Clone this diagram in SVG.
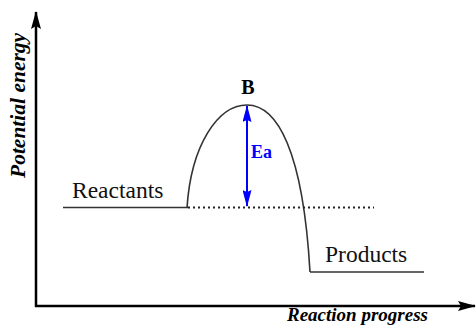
<svg xmlns="http://www.w3.org/2000/svg" width="476" height="327" viewBox="0 0 476 327">
<defs>
<style>
.axis{stroke:#000;stroke-width:2.5;fill:none}
.lvl{stroke:#333;stroke-width:1.6;fill:none}
.lbl{font-family:"Liberation Serif","Times New Roman",serif;font-size:23.5px;fill:#111}
.ax{font-family:"Liberation Serif","Times New Roman",serif;font-weight:bold;font-style:italic;fill:#000}
</style>
<marker id="ah" viewBox="0 0 18 10" refX="17" refY="5" markerWidth="18" markerHeight="10" markerUnits="userSpaceOnUse" orient="auto">
<path d="M0,0 L18,5 L0,10 L3,5 Z" fill="#000"/>
</marker>
<marker id="bh" viewBox="0 0 17 9" refX="16" refY="4.5" markerWidth="17" markerHeight="9" markerUnits="userSpaceOnUse" orient="auto-start-reverse">
<path d="M0,0 L17,4.5 L0,9 L2,4.5 Z" fill="#0000ff"/>
</marker>
</defs>
<rect width="476" height="327" fill="#fff"/>
<g id="axes">
<line class="axis" x1="36" y1="307" x2="36" y2="12" marker-end="url(#ah)"/>
<line class="axis" x1="35" y1="306" x2="475" y2="306" marker-end="url(#ah)"/>
<text class="ax" font-size="21.5" transform="translate(25,178) rotate(-90)">Potential energy</text>
<text class="ax" font-size="19" x="287" y="320.5">Reaction progress</text>
</g>
<g id="reactants">
<line class="lvl" x1="63" y1="207.5" x2="188" y2="207.5"/>
<text class="lbl" x="72" y="197.5">Reactants</text>
</g>
<g id="products">
<line class="lvl" x1="310" y1="272" x2="424" y2="272"/>
<text class="lbl" x="325" y="262">Products</text>
</g>
<g id="connectors">
<path class="lvl" d="M187,208 C191,145 218,105 247,105 C277,105 303,150 310,272"/>
<line x1="188" y1="207.5" x2="374" y2="207.5" stroke="#222" stroke-width="2" stroke-dasharray="2,3"/>
</g>
<g id="B">
<text x="248" y="94" text-anchor="middle" font-family="'Liberation Serif','Times New Roman',serif" font-size="20" font-weight="bold" fill="#000">B</text>
</g>
<g id="Ea">
<line x1="247" y1="106" x2="247" y2="206" stroke="#0000ff" stroke-width="2" marker-start="url(#bh)" marker-end="url(#bh)"/>
<text x="251" y="158" font-family="'Liberation Serif','Times New Roman',serif" font-size="18" font-weight="bold" fill="#0000ff">Ea</text>
</g>
</svg>
